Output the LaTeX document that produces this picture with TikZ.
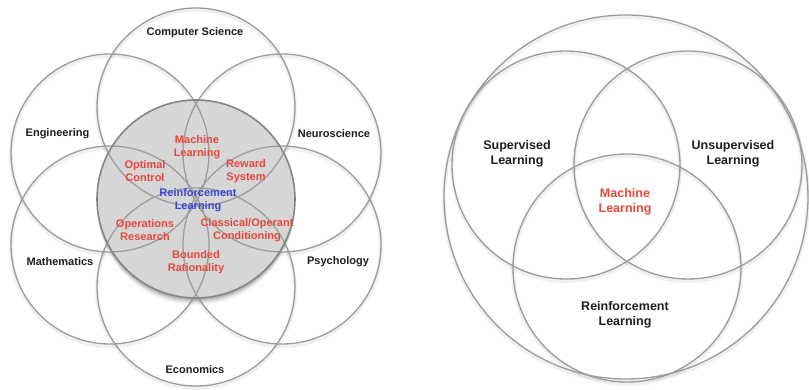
\documentclass[tikz,border=0pt]{standalone}
\usepackage{fontspec}
\setmainfont{Liberation Sans}
\definecolor{redlbl}{HTML}{E8473B}
\definecolor{bluelbl}{HTML}{3B47D6}
\definecolor{ring}{HTML}{9C9C9C}
\definecolor{disk}{HTML}{D6D6D6}
\definecolor{diskedge}{HTML}{858585}
\definecolor{lbl}{HTML}{1E1E1E}
\begin{document}
\begin{tikzpicture}[x=1pt,y=-1pt,
  ringline/.style={draw=ring, line width=1.3pt},
  ringshadow/.style={draw=black, opacity=0.06, line width=4pt},
  smalllbl/.style={font=\fontsize{11}{13}\selectfont\bfseries, align=center, inner sep=0pt},
  outerlbl/.style={smalllbl, text=lbl},
  redlab/.style={smalllbl, text=redlbl},
  bluelab/.style={smalllbl, text=bluelbl},
  biglbl/.style={font=\fontsize{12.5}{15}\selectfont\bfseries, align=center, inner sep=0pt, text=lbl},
  bigred/.style={biglbl, text=redlbl}]
\useasboundingbox (0,0) rectangle (809,390);
\fill[white] (0,0) rectangle (809,390);

% ---------- left diagram ----------
\foreach \cx/\cy in {196/107,282/153,282/245,196/287,110/245,110/153}
  \draw[ringshadow] (\cx,\cy+2) circle[radius=99pt];
% shadow of central disk (mostly below)
\foreach \s/\o in {7/0.04,5.5/0.06,4/0.09,2.5/0.12}
  \fill[black, opacity=\o] (196,199+\s) circle[radius=99pt];
\fill[disk] (196,199) circle[radius=99pt];
\foreach \cx/\cy in {196/107,282/153,282/245,196/287,110/245,110/153}
  \draw[ringline] (\cx,\cy) circle[radius=99pt];
\draw[draw=diskedge, line width=1.6pt] (196,199) circle[radius=99pt];

\node[outerlbl] (cs)  at (195,33)  {Computer Science};
\node[outerlbl] (eng) at (57.5,134) {Engineering};
\node[outerlbl] (neu) at (334,134) {Neuroscience};
\node[outerlbl] (mat) at (60,262)  {Mathematics};
\node[outerlbl] (psy) at (338,262) {Psychology};
\node[outerlbl] (eco) at (195,370) {Economics};

\node[redlab] (ml)  at (197,147) {Machine\\Learning};
\node[redlab] (oc)  at (145,171) {Optimal\\Control};
\node[redlab] (rs)  at (246,171) {Reward\\System};
\node[bluelab] (rl) at (198,200) {Reinforcement\\Learning};
\node[redlab] (orr) at (145,230) {Operations\\Research};
\node[redlab] (coc) at (247,230) {Classical/Operant\\Conditioning};
\node[redlab] (br)  at (196,262) {Bounded\\Rationality};

% ---------- right diagram ----------
\draw[ringshadow] (626,199) circle[radius=182pt];
\foreach \cx/\cy in {566/165,688/165,627/268}
  \draw[ringshadow] (\cx,\cy+2) circle[radius=114pt];
\draw[ringline] (626,197) circle[radius=182pt];
\foreach \cx/\cy in {566/165,688/165,627/268}
  \draw[ringline] (\cx,\cy) circle[radius=114pt];

\node[biglbl] (sl)  at (517,154) {Supervised\\Learning};
\node[biglbl] (ul)  at (733,154) {Unsupervised\\Learning};
\node[bigred] (mlr) at (625,202) {Machine\\Learning};
\node[biglbl] (rlr) at (625,315) {Reinforcement\\Learning};
\end{tikzpicture}
\end{document}
